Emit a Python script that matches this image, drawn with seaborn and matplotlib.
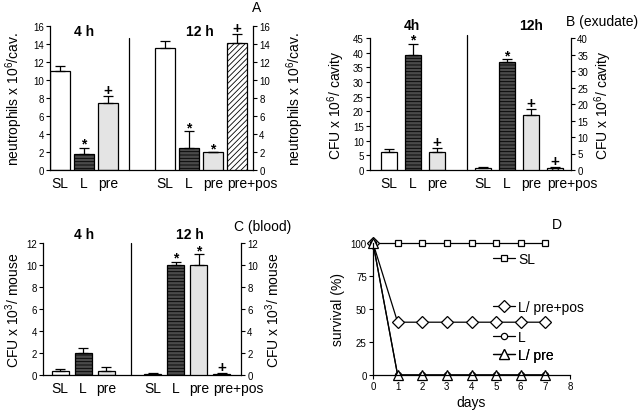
import numpy as np
import matplotlib
matplotlib.use("Agg")
import matplotlib.pyplot as plt
import seaborn as sns
from matplotlib.lines import Line2D

sns.set_theme(style="ticks", rc={"axes.edgecolor": "black", "xtick.color": "black",
                                 "ytick.color": "black", "text.color": "black",
                                 "axes.labelcolor": "black"})
plt.rcParams['font.family'] = ['Liberation Sans', 'DejaVu Sans']
plt.rcParams['mathtext.default'] = 'regular'
plt.rcParams['hatch.linewidth'] = 0.6

# groups
groups_4h = ["SL", "L", "pre"]
groups_12h = ["SL", "L", "pre", "pre+pos"]

# A: neutrophils
neut_4h = [11.0, 1.8, 7.4]
neut_4h_err = [0.6, 0.65, 0.8]
neut_12h = [13.6, 2.5, 2.0, 14.1]
neut_12h_err = [0.7, 1.8, 0.0, 1.0]
neut_4h_sig = ["", "*", "+"]
neut_12h_sig = ["", "*", "*", "+"]

# B: CFU in exudate (12 h on right axis)
exu_4h = [6.1, 39.1, 6.1]
exu_4h_err = [1.1, 4.0, 1.3]
exu_12h = [0.5, 32.7, 16.8, 0.5]
exu_12h_err = [0.3, 0.9, 1.8, 0.4]
exu_4h_sig = ["", "*", "+"]
exu_12h_sig = ["", "*", "+", "+"]

# C: CFU in blood
blood_4h = [0.33, 2.0, 0.33]
blood_4h_err = [0.22, 0.5, 0.37]
blood_12h = [0.12, 10.0, 10.0, 0.1]
blood_12h_err = [0.06, 0.3, 1.0, 0.1]
blood_4h_sig = ["", "", ""]
blood_12h_sig = ["", "*", "*", "+"]

# D: survival
days = [0, 1, 2, 3, 4, 5, 6, 7]
surv_sl = [100, 100, 100, 100, 100, 100, 100, 100]
surv_prepos = [100, 40, 40, 40, 40, 40, 40, 40]
surv_l = [100, 0, 0, 0, 0, 0, 0, 0]
surv_pre = [100, 0, 0, 0, 0, 0, 0, 0]

bar_style = {
    "SL": ("white", None),
    "L": ("#4a4a4a", "-----"),
    "pre": ("#e4e4e4", None),
    "pre+pos": ("white", "//////"),
}

W, H = 640, 414
fig = plt.figure(figsize=(6.4, 4.14), dpi=100)


def px_rect(left, top, right, bottom):
    return [left / W, 1 - bottom / H, (right - left) / W, (bottom - top) / H]


def draw_bars(ax, xs, vals, errs, names, sigs, width):
    sns.barplot(x=xs, y=vals, native_scale=True, width=width, errorbar=None,
                color="white", edgecolor="black", linewidth=0.9, ax=ax)
    for patch, name in zip(ax.patches, names):
        fc, hatch = bar_style[name]
        patch.set_facecolor(fc)
        if hatch:
            patch.set_hatch(hatch)
    ax.errorbar(xs, vals, yerr=[np.zeros(len(vals)), errs], fmt="none",
                ecolor="black", elinewidth=0.9, capsize=3.5, capthick=0.9)
    for x, v, e, s in zip(xs, vals, errs, sigs):
        if s == "+":
            ax.annotate(s, (x, v + e), xytext=(0, 1.5), textcoords="offset points",
                        ha="center", va="baseline", fontsize=11, fontweight="bold")
        elif s:
            ax.annotate(s, (x, v + e), xytext=(0, 0), textcoords="offset points",
                        ha="center", va="baseline", fontsize=10, fontweight="bold")


def bar_panel(rect, xlim, off12, sep, sep_top, width, ylim_l, ylim_r, step_l, step_r,
              v4, e4, s4, v12, e12, s12, ylabel, pad_l, pad_r):
    ax = fig.add_axes(rect)
    ax2 = ax.twinx()
    x4 = np.arange(len(v4)).astype(float)
    x12 = off12 + np.arange(len(v12))
    draw_bars(ax, x4, v4, e4, groups_4h, s4, width)
    draw_bars(ax2, x12, v12, e12, groups_12h, s12, width)
    ax.set_xlim(*xlim)
    ax.set_ylim(0, ylim_l)
    ax2.set_ylim(0, ylim_r)
    ax.set_yticks(np.arange(0, ylim_l + 0.01, step_l))
    ax2.set_yticks(np.arange(0, ylim_r + 0.01, step_r))
    # last label ("pre+pos") starts at the bar's left edge
    ticks = list(x4) + list(x12[:-1]) + [x12[-1] - width / 2]
    ax.set_xticks(ticks)
    ax.set_xticklabels(groups_4h + groups_12h)
    ax.get_xticklabels()[-1].set_horizontalalignment("left")
    ax.tick_params(axis="x", length=0, labelsize=10, pad=4)
    ax.tick_params(axis="y", length=3, width=0.8, labelsize=7, pad=1.5)
    ax2.tick_params(axis="y", length=3, width=0.8, labelsize=7, pad=1.5)
    for a in (ax, ax2):
        for sp in a.spines.values():
            sp.set_linewidth(0.9)
        a.spines["top"].set_visible(False)
    ax.spines["right"].set_visible(False)
    ax2.spines["left"].set_visible(False)
    ax2.spines["bottom"].set_visible(False)
    ax.axvline(sep, ymin=0, ymax=sep_top, color="black", lw=0.9, clip_on=False)
    ax.set_ylabel(ylabel, fontsize=10, labelpad=pad_l)
    ax2.set_ylabel(ylabel, fontsize=10, labelpad=pad_r, rotation=90)
    return ax, ax2


# panel A
bar_panel(px_rect(50, 27, 253, 171), (-0.42, 8.04), 4.375, 2.875, 0.92, 0.83,
          16, 16, 2, 2, neut_4h, neut_4h_err, neut_4h_sig,
          neut_12h, neut_12h_err, neut_12h_sig,
          r"neutrophils x 10$^6$/cav.", 6, 10)

# panel B
bar_panel(px_rect(370, 39, 571, 171), (-0.79, 7.58), 3.92, 3.25, 1.02, 0.67,
          45, 40, 5, 5, exu_4h, exu_4h_err, exu_4h_sig,
          exu_12h, exu_12h_err, exu_12h_sig,
          r"CFU x 10$^6$/ cavity", 4, 3)

# panel C
bar_panel(px_rect(43, 244, 241, 376), (-0.74, 7.87), 4.04, 3.09, 1.0, 0.74,
          12, 12, 2, 2, blood_4h, blood_4h_err, blood_4h_sig,
          blood_12h, blood_12h_err, blood_12h_sig,
          r"CFU x 10$^3$/ mouse", 3, 4)

# panel D
axd = fig.add_axes(px_rect(373, 244, 570, 376))
series = [
    (surv_sl, "s", 5, "SL"),
    (surv_prepos, "D", 6, "L/ pre+pos"),
    (surv_l, "o", 4.5, "L"),
    (surv_pre, "^", 7.5, "L/ pre"),
]
handles = []
for vals, mk, ms, lab in series:
    sns.lineplot(x=days, y=vals, marker=mk, markersize=ms, color="black",
                 markerfacecolor="white", markeredgecolor="black",
                 markeredgewidth=0.9, linewidth=0.9, ax=axd, clip_on=False)
    handles.append(Line2D([], [], color="black", lw=0.9, marker=mk, markersize=ms,
                          markerfacecolor="white", markeredgecolor="black",
                          markeredgewidth=0.9, label=lab))
axd.set_xlim(0, 8)
axd.set_ylim(0, 100)
axd.set_xticks(range(0, 9))
axd.set_yticks([0, 25, 50, 75, 100])
axd.tick_params(length=3, width=0.8, labelsize=7, pad=1.5)
axd.spines["top"].set_visible(False)
axd.spines["right"].set_visible(False)
for sp in axd.spines.values():
    sp.set_linewidth(0.9)
axd.set_xlabel("days", fontsize=10, labelpad=3)
axd.set_ylabel("survival (%)", fontsize=10, labelpad=4)

leg_y = [0.88, 0.515, 0.29, 0.15]
for h, y in zip(handles, leg_y):
    leg = axd.legend(handles=[h], loc="center left", bbox_to_anchor=(0.61, y),
                     frameon=False, fontsize=10, handlelength=1.6, handletextpad=0.2,
                     borderpad=0, borderaxespad=0)
    axd.add_artist(leg)

# panel titles and letters
def ftext(x, y, s, **kw):
    fig.text(x / W, 1 - y / H, s, ha="center", va="center", **kw)

ftext(257, 8, "A", fontsize=10)
ftext(84, 32, "4 h", fontsize=10, fontweight="bold")
ftext(200, 32, "12 h", fontsize=10, fontweight="bold")
ftext(412, 26, "4h", fontsize=10, fontweight="bold")
ftext(531, 26, "12h", fontsize=10, fontweight="bold")
ftext(602, 22, "B (exudate)", fontsize=10)
ftext(84, 235, "4 h", fontsize=10, fontweight="bold")
ftext(190, 235, "12 h", fontsize=10, fontweight="bold")
ftext(263, 227, "C (blood)", fontsize=10)
ftext(557, 225, "D", fontsize=10)

fig.savefig("out.png", dpi=100)
